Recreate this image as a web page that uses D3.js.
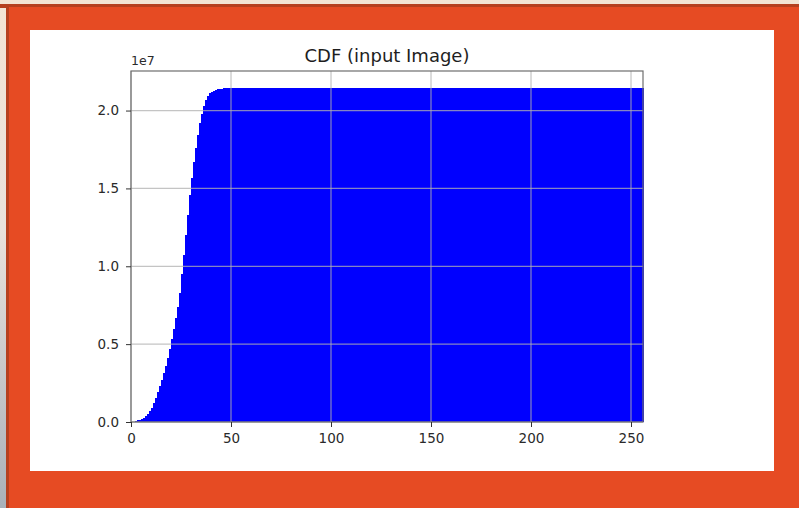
<!DOCTYPE html>
<html>
<head>
<meta charset="utf-8">
<script src="https://cdn.jsdelivr.net/npm/d3@7"></script>
<style>
  body { margin: 0; background: #f3e7da; }
  text { font-family: "DejaVu Sans", sans-serif; }
</style>
</head>
<body>
<div id="chart"></div>
<script>
// cumulative pixel counts per grey level, in units of 1e7
const cdf = [
  0.001, 0.003, 0.006, 0.010, 0.015, 0.021, 0.028, 0.037, 0.050, 0.068,
  0.092, 0.120, 0.152, 0.190, 0.230, 0.270, 0.315, 0.362, 0.412, 0.470,
  0.530, 0.595, 0.665, 0.740, 0.830, 0.950, 1.070, 1.200, 1.330, 1.460,
  1.570, 1.670, 1.760, 1.840, 1.920, 1.980, 2.030, 2.070, 2.095, 2.110,
  2.120, 2.127, 2.132, 2.136, 2.139, 2.141, 2.143, 2.144, 2.145, 2.146,
  2.146, 2.146, 2.146, 2.146, 2.146, 2.147, 2.147, 2.147, 2.147, 2.147,
  2.147, 2.147, 2.147, 2.147, 2.147, 2.147, 2.147, 2.147, 2.147, 2.147,
  2.147, 2.147, 2.147, 2.147, 2.147, 2.147, 2.147, 2.147, 2.147, 2.147,
  2.147, 2.147, 2.147, 2.147, 2.147, 2.147, 2.147, 2.147, 2.147, 2.147,
  2.147, 2.147, 2.147, 2.147, 2.147, 2.147, 2.147, 2.147, 2.147, 2.147,
  2.147, 2.147, 2.147, 2.147, 2.147, 2.147, 2.147, 2.147, 2.147, 2.147,
  2.147, 2.147, 2.147, 2.147, 2.147, 2.147, 2.147, 2.147, 2.147, 2.147,
  2.147, 2.147, 2.147, 2.147, 2.147, 2.147, 2.147, 2.147, 2.147, 2.147,
  2.147, 2.147, 2.147, 2.147, 2.147, 2.147, 2.147, 2.147, 2.147, 2.147,
  2.147, 2.147, 2.147, 2.147, 2.147, 2.147, 2.147, 2.147, 2.147, 2.147,
  2.147, 2.147, 2.147, 2.147, 2.147, 2.147, 2.147, 2.147, 2.147, 2.147,
  2.147, 2.147, 2.147, 2.147, 2.147, 2.147, 2.147, 2.147, 2.147, 2.147,
  2.147, 2.147, 2.147, 2.147, 2.147, 2.147, 2.147, 2.147, 2.147, 2.147,
  2.147, 2.147, 2.147, 2.147, 2.147, 2.147, 2.147, 2.147, 2.147, 2.147,
  2.147, 2.147, 2.147, 2.147, 2.147, 2.147, 2.147, 2.147, 2.147, 2.147,
  2.147, 2.147, 2.147, 2.147, 2.147, 2.147, 2.147, 2.147, 2.147, 2.147,
  2.147, 2.147, 2.147, 2.147, 2.147, 2.147, 2.147, 2.147, 2.147, 2.147,
  2.147, 2.147, 2.147, 2.147, 2.147, 2.147, 2.147, 2.147, 2.147, 2.147,
  2.147, 2.147, 2.147, 2.147, 2.147, 2.147, 2.147, 2.147, 2.147, 2.147,
  2.147, 2.147, 2.147, 2.147, 2.147, 2.147, 2.147, 2.147, 2.147, 2.147,
  2.147, 2.147, 2.147, 2.147, 2.147, 2.147
];
const xTicks = [0, 50, 100, 150, 200, 250];
const yTicks = [0, 0.5, 1.0, 1.5, 2.0];
const title = 'CDF (input Image)';
const offsetLabel = '1e7';

const width = 799, height = 508;
const svg = d3.select('#chart').append('svg').attr('width', width).attr('height', height);

// slide frame behind the figure
const grad = svg.append('defs').append('linearGradient')
  .attr('id', 'edge').attr('x1', 0).attr('y1', 0).attr('x2', 0).attr('y2', 1);
grad.append('stop').attr('offset', '0%').attr('stop-color', '#f3e4d4');
grad.append('stop').attr('offset', '45%').attr('stop-color', '#e9e2dc');
grad.append('stop').attr('offset', '100%').attr('stop-color', '#a9b1b9');
svg.append('rect').attr('width', width).attr('height', height).attr('fill', 'url(#edge)');
svg.append('rect').attr('x', 0).attr('y', 4).attr('width', width).attr('height', 4).attr('fill', '#b5401f');
svg.append('rect').attr('x', 6).attr('y', 4).attr('width', 4).attr('height', height).attr('fill', '#b5401f');
svg.append('rect').attr('x', 9).attr('y', 7).attr('width', width - 9).attr('height', height - 7).attr('fill', '#e64b23');
svg.append('rect').attr('x', 30).attr('y', 30).attr('width', 744).attr('height', 441).attr('fill', '#ffffff');

const x = d3.scaleLinear().domain([0, 256]).range([131, 643]);
const y = d3.scaleLinear().domain([0, 2.254]).range([422, 71]);

const plot = svg.append('g').attr('shape-rendering', 'crispEdges');
plot.selectAll('rect.bar').data(cdf)
  .enter()
  .append('rect')
  .attr('class', 'bar')
  .attr('x', (d, i) => x(i))
  .attr('y', d => y(d))
  .attr('width', (d, i) => x(i + 1) - x(i) + 1)
  .attr('height', d => y(0) - y(d))
  .attr('fill', '#0000ff');

// grid on top of the bars
const grid = svg.append('g').attr('stroke', '#b0b0b0').attr('stroke-opacity', 0.75).attr('stroke-width', 1.2);
grid.selectAll('line.gx').data(xTicks).enter().append('line')
  .attr('x1', d => x(d)).attr('x2', d => x(d)).attr('y1', y.range()[1]).attr('y2', y.range()[0]);
grid.selectAll('line.gy').data(yTicks).enter().append('line')
  .attr('y1', d => y(d)).attr('y2', d => y(d)).attr('x1', x.range()[0]).attr('x2', x.range()[1]);

// spines
svg.append('rect')
  .attr('x', x.range()[0]).attr('y', y.range()[1])
  .attr('width', x.range()[1] - x.range()[0]).attr('height', y.range()[0] - y.range()[1])
  .attr('fill', 'none').attr('stroke', '#6e6e6e').attr('stroke-width', 1.2);

const xAxis = svg.append('g').attr('transform', 'translate(0,' + y.range()[0] + ')')
  .call(d3.axisBottom(x).tickValues(xTicks).tickSize(5).tickPadding(6).tickFormat(d3.format('d')));
const yAxis = svg.append('g').attr('transform', 'translate(' + x.range()[0] + ',0)')
  .call(d3.axisLeft(y).tickValues(yTicks).tickSize(5).tickPadding(7).tickFormat(d3.format('.1f')));
[xAxis, yAxis].forEach(a => {
  a.select('.domain').remove();
  a.selectAll('line').attr('stroke', '#333');
  a.selectAll('text').attr('fill', '#2a2a2a').style('font-size', '13.5px');
});

svg.append('text')
  .attr('x', (x.range()[0] + x.range()[1]) / 2)
  .attr('y', 62)
  .attr('text-anchor', 'middle')
  .attr('fill', '#1e1e1e')
  .style('font-size', '18px')
  .text(title);

svg.append('text')
  .attr('x', x.range()[0])
  .attr('y', 65)
  .attr('fill', '#2a2a2a')
  .style('font-size', '12.5px')
  .text(offsetLabel);
</script>
</body>
</html>
